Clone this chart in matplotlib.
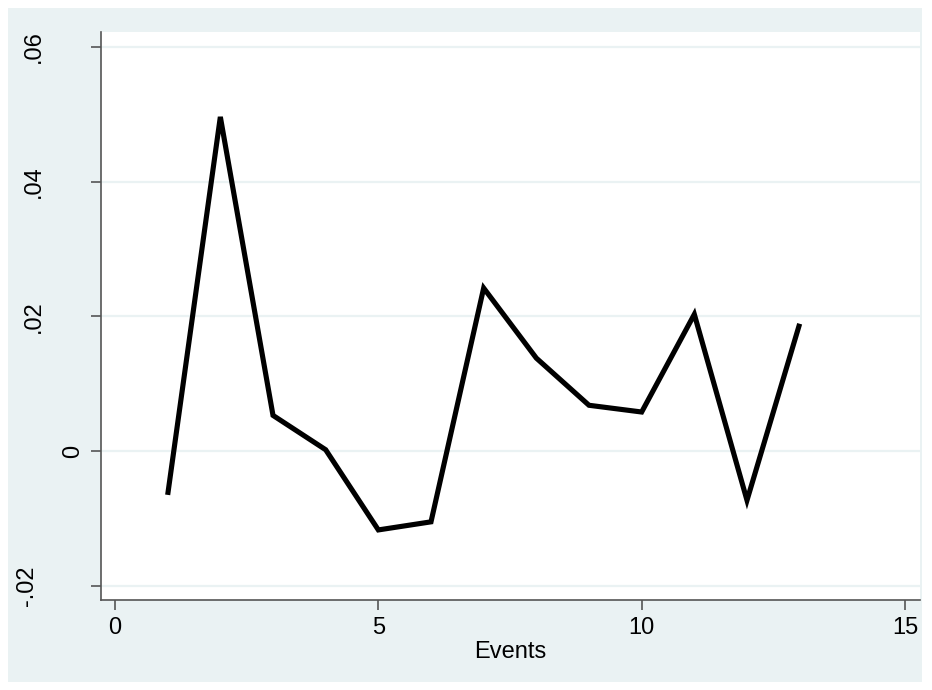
import numpy as np
import matplotlib.pyplot as plt
from matplotlib.transforms import blended_transform_factory

plt.rcParams['font.family'] = ['Liberation Sans', 'DejaVu Sans']

# data
events = [1, 2, 3, 4, 5, 6, 7, 8, 9, 10, 11, 12, 13]
values = [-0.0065, 0.0496, 0.0053, 0.0002, -0.0117, -0.0105, 0.0242,
          0.0138, 0.0068, 0.0058, 0.0203, -0.0073, 0.0189]
xticks = [0, 5, 10, 15]
yticks = [-0.02, 0, 0.02, 0.04, 0.06]
ylabels = ['-.02', '0', '.02', '.04', '.06']
# stata offsets the rotated labels oddly, so place them by hand (pixels)
ylabel_x = [27.5, 73.5, 33.5, 33.5, 33.5]

bg = '#EAF2F3'
axcol = '#555555'
W, H = 932, 690

fig = plt.figure(figsize=(W / 100, H / 100), dpi=100)
fig.patch.set_facecolor('white')
# stata-like outer panel
fig.patches.append(plt.Rectangle((8 / W, 8 / H), 914 / W, 674 / H,
                                 transform=fig.transFigure, facecolor=bg,
                                 edgecolor='none', zorder=-1))

ax = fig.add_axes([101 / W, 90 / H, 819 / W, 568 / H])
ax.set_facecolor('white')

ax.plot(events, values, color='black', linewidth=3.7, solid_capstyle='butt',
        solid_joinstyle='miter', zorder=3)

ax.set_xlim(-0.266, 15.285)
ax.set_ylim(-0.0221, 0.0622)
ax.set_xticks(xticks)
ax.set_yticks(yticks)
ax.set_yticklabels([])
ax.grid(axis='y', color=bg, linewidth=1.6, zorder=0)
ax.set_axisbelow(True)

trans = blended_transform_factory(fig.transFigure, ax.transData)
for yv, lab, px in zip(yticks, ylabels, ylabel_x):
    ax.text(px / W, yv, lab, transform=trans, rotation=90, ha='center',
            va='center', fontsize=17, color='black')

for s in ['top', 'right']:
    ax.spines[s].set_visible(False)
for s in ['left', 'bottom']:
    ax.spines[s].set_color(axcol)
    ax.spines[s].set_linewidth(1.2)

ax.tick_params(axis='both', colors=axcol, length=7, width=1.2, labelsize=17,
               labelcolor='black', pad=5)
ax.set_xlabel('Events', fontsize=17)
ax.xaxis.set_label_coords(0.5, (H - 652 - 90) / 568)
ax.xaxis.label.set_va('center')

fig.savefig('out.png', dpi=100, facecolor=fig.get_facecolor())
